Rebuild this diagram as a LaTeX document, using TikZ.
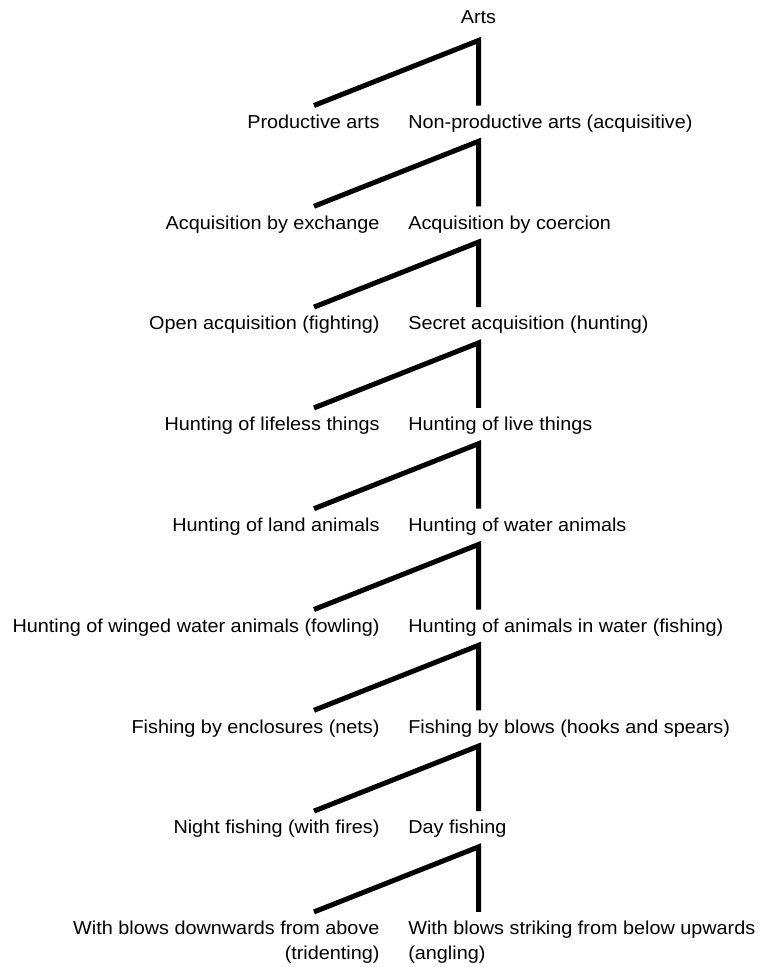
\documentclass[tikz,border=0pt]{standalone}
\usepackage{fontspec}
\setmainfont{Liberation Sans}[FakeStretch=1.06]
\begin{document}
\begin{tikzpicture}[x=1bp,y=-1bp,
  every node/.style={inner sep=0pt,outer sep=0pt,font=\fontsize{18.7bp}{25bp}\selectfont},
  lefttext/.style={anchor=base east,align=right},
  righttext/.style={anchor=base west,align=left},
  fork/.style={line width=5bp,line join=miter,line cap=butt}]
\useasboundingbox (0,0) rectangle (758,967);

% root
\node[anchor=base] (root) at (478.5,23.3) {Arts};

% label rows (left branch, right branch)
\def\rowpitch{100.8}
\foreach \i/\lt/\rt in {
  0/{Productive arts}/{Non-productive arts (acquisitive)},
  1/{Acquisition by exchange}/{Acquisition by coercion},
  2/{Open acquisition (fighting)}/{Secret acquisition (hunting)},
  3/{Hunting of lifeless things}/{Hunting of live things},
  4/{Hunting of land animals}/{Hunting of water animals},
  5/{Hunting of winged water animals (fowling)}/{Hunting of animals in water (fishing)},
  6/{Fishing by enclosures (nets)}/{Fishing by blows (hooks and spears)},
  7/{Night fishing (with fires)}/{Day fishing}}
{
  \node[lefttext] (l\i) at (379.5,128.3+\i*\rowpitch) {\lt};
  \node[righttext] (r\i) at (408.3,128.3+\i*\rowpitch) {\rt};
}

% last row: two-line labels, anchored on the baseline of their second line
\node[lefttext] (l8) at (379.5,128.3+8*\rowpitch+25) {With blows downwards from above\\(tridenting)};
\node[righttext] (r8) at (408.3,128.3+8*\rowpitch+25) {With blows striking from below upwards\\(angling)};

% forks: apex below each parent, ends above its two children
\foreach \i in {0,...,8} {
  \coordinate (apex\i) at (478.5,40.5+\i*\rowpitch);
  \coordinate (endl\i) at (314,105.5+\i*\rowpitch);
  \coordinate (endr\i) at (478.5,105.5+\i*\rowpitch);
  \draw[fork] (endl\i) -- (apex\i) -- (endr\i);
}
\end{tikzpicture}
\end{document}
